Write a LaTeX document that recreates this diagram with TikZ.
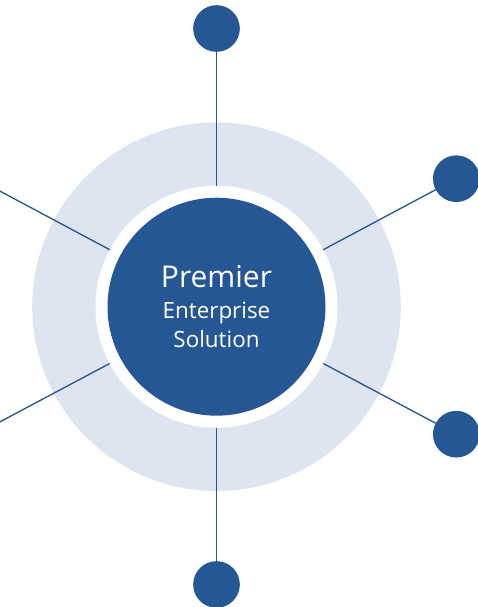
\documentclass[tikz,border=0pt]{standalone}
\usepackage{fontspec}
\setmainfont{Open Sans}
\definecolor{premierblue}{HTML}{265795}
\definecolor{ringgrey}{HTML}{DFE5F0}

\begin{document}
\begin{tikzpicture}[x=0.75pt, y=-0.75pt,
		dot/.style={circle, fill=premierblue, inner sep=0pt, outer sep=0pt, minimum size=35pt},
		spoke/.style={draw=premierblue, line width=1pt},
		disc/.style={circle, inner sep=0pt, outer sep=0pt}]
		%Frame
		\useasboundingbox (0,0) rectangle (478,607);
		\clip (0,0) rectangle (478,607);
		
		%Coordinates
		\coordinate (C) at (216.5,306.7);
		\coordinate (LT) at (-23.3,178.7);
		\coordinate (LB) at (-23.3,434.2);
		
		%Ring
		\fill[ringgrey] (C) circle (184.3);
		\node[disc, fill=white, minimum size=181.5pt] (gap) at (C) {};
		\node[disc, fill=premierblue, minimum size=163.5pt, text=white, align=center,
			font=\fontsize{16.8}{21.5}\selectfont] (core) at (C)
			{{\fontsize{22.5}{23.5}\selectfont Premier}\\[2pt] Enterprise\\ Solution};
		
		%Dots
		\node[dot] (top) at (216.5,28.5) {};
		\node[dot] (rtop) at (456.3,178.7) {};
		\node[dot] (rbot) at (456.3,434.2) {};
		\node[dot] (bot) at (216.5,584.5) {};
		
		%Spokes
		\draw[spoke] (gap) -- (top);
		\draw[spoke] (gap) -- (rtop);
		\draw[spoke] (gap) -- (rbot);
		\draw[spoke] (gap) -- (bot);
		\draw[spoke] (gap) -- (LT);
		\draw[spoke] (gap) -- (LB);
		
	\end{tikzpicture}
\end{document}
